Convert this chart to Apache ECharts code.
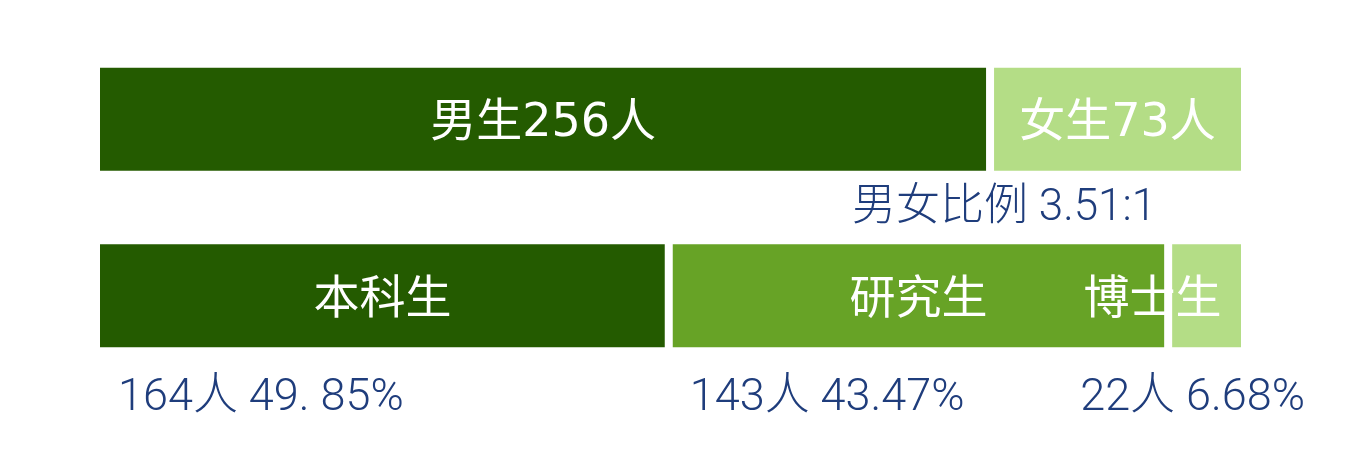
<!DOCTYPE html>
<html>
<head>
<meta charset="utf-8">
<script src="https://cdn.jsdelivr.net/npm/echarts@6/dist/echarts.min.js"></script>
<style>html,body{margin:0;padding:0;background:#fff;}#c{width:1350px;height:452px;}</style>
</head>
<body>
<div id="c"></div>
<script>
const rows = ['性别', '学历'];
const genderNames = ['男生', '女生'];
const genderValues = [256, 73];
const degreeNames = ['本科生', '研究生', '博士生'];
const degreeValues = [164, 143, 22];
const degreePct = ['49. 85%', '43.47%', '6.68%'];
const ratioText = '男女比例 3.51:1';

const total = genderValues.reduce((a, b) => a + b, 0);
const FONT_IN = '"DejaVu Sans", "Noto Sans CJK SC", sans-serif';
const FONT = 'Roboto, "Noto Sans CJK SC", sans-serif';
const colDark = '#245b00', colMid = '#67a326', colLight = '#b4dd86';
const navy = '#1f3d7c';

const genderColors = [colDark, colLight];
const degreeColors = [colDark, colMid, colLight];
const nameOffsets = [[0, 5], [0, 5], [-54, 5]];
const belowOffsets = [22, 21, -88];

const series = [];
genderNames.forEach((n, i) => {
  series.push({
    type: 'bar', stack: 'main', barWidth: 111, yAxisIndex: 0,
    data: [genderValues[i], null],
    itemStyle: { color: genderColors[i], borderColor: '#fff', borderWidth: 4 },
    label: { show: true, position: 'inside', offset: [0, 5], color: '#fff', fontSize: 46, fontFamily: FONT_IN,
      formatter: () => n + genderValues[i] + '人' },
    silent: true
  });
});
degreeNames.forEach((n, i) => {
  series.push({
    type: 'bar', stack: 'main', barWidth: 111, yAxisIndex: 0,
    data: [null, degreeValues[i]],
    itemStyle: { color: degreeColors[i], borderColor: '#fff', borderWidth: 4 },
    label: { show: true, position: 'inside', offset: nameOffsets[i], color: '#fff', fontSize: 46, fontFamily: FONT_IN,
      formatter: () => n },
    silent: true
  });
});
degreeNames.forEach((n, i) => {
  series.push({
    type: 'bar', stack: 'below', barWidth: 103, yAxisIndex: 1,
    data: [null, degreeValues[i]],
    itemStyle: { color: 'rgba(0,0,0,0)' },
    label: { show: true, position: [belowOffsets[i], 154], align: 'left', verticalAlign: 'middle',
      color: navy, fontSize: 45, fontWeight: 300, fontFamily: FONT,
      formatter: () => degreeValues[i] + '人 ' + degreePct[i] },
    silent: true
  });
});

const chart = echarts.init(document.getElementById('c'));
chart.setOption({
  animation: false,
  backgroundColor: '#fff',
  title: { text: ratioText, left: 852, top: 187, padding: 0,
    textStyle: { color: navy, fontSize: 44, fontWeight: 300, fontFamily: FONT } },
  grid: { left: 96, right: 105, top: 31, bottom: 68 },
  xAxis: { type: 'value', min: 0, max: total, show: false },
  yAxis: [
    { type: 'category', data: rows, inverse: true, show: false },
    { type: 'category', data: rows, inverse: true, show: false }
  ],
  series: series
});
</script>
</body>
</html>
